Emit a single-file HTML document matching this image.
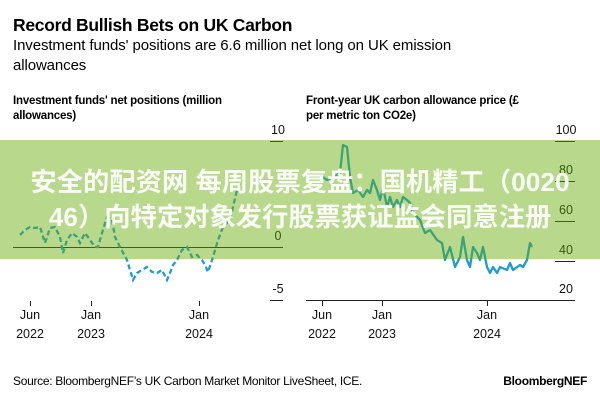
<!DOCTYPE html>
<html><head><meta charset="utf-8"><style>
body{margin:0;width:600px;height:400px;background:#fff;overflow:hidden;position:relative;font-family:"Liberation Sans",Arial,sans-serif;color:#000}
.t{position:absolute;white-space:nowrap}
</style></head><body>
<div class="t" style="left:13px;top:15px;font-size:17.5px;font-weight:bold;letter-spacing:-0.3px">Record Bullish Bets on UK Carbon</div>
<div class="t" style="left:13px;top:36px;font-size:15px;line-height:20px;letter-spacing:-0.1px">Investment funds' positions are 6.6 million net long on UK emission<br>allowances</div>
<div class="t" style="left:13px;top:94px;font-size:11.5px;font-weight:bold;line-height:15px;letter-spacing:-0.2px">Investment funds' net positions (million<br>allowances)</div>
<div class="t" style="left:306px;top:94px;font-size:11.5px;font-weight:bold;line-height:15px;letter-spacing:-0.2px">Front-year UK carbon allowance price (£<br>per metric ton CO2e)</div>
<svg width="600" height="400" style="position:absolute;left:0;top:0" font-family="Liberation Sans, Arial, sans-serif" font-size="12.5">
<g stroke="#222" stroke-width="1" fill="none">
<line x1="270" y1="141.5" x2="283" y2="141.5"/><line x1="270" y1="300.5" x2="283" y2="300.5"/><line x1="13" y1="247.5" x2="283" y2="247.5"/>
<line x1="30.5" y1="301" x2="30.5" y2="306"/><line x1="91.5" y1="301" x2="91.5" y2="306"/><line x1="199.5" y1="301" x2="199.5" y2="306"/>
<line x1="555" y1="141.5" x2="575" y2="141.5"/><line x1="555" y1="181.5" x2="575" y2="181.5"/><line x1="555" y1="221.5" x2="575" y2="221.5"/><line x1="555" y1="261.5" x2="575" y2="261.5"/>
<line x1="306" y1="300.5" x2="575" y2="300.5"/>
<line x1="322.5" y1="300" x2="322.5" y2="306"/><line x1="382.5" y1="300" x2="382.5" y2="306"/><line x1="487.5" y1="300" x2="487.5" y2="306"/>
</g>
<g fill="#111" text-anchor="middle">
<text x="278" y="134">10</text><text x="278" y="240">0</text><text x="278" y="293">-5</text>
<text x="566" y="134">100</text><text x="566" y="174">80</text><text x="566" y="214">60</text><text x="566" y="254">40</text><text x="566" y="293">20</text>
<text x="30" y="319">Jun</text><text x="30" y="338">2022</text><text x="91" y="319">Jan</text><text x="91" y="338">2023</text><text x="199" y="319">Jan</text><text x="199" y="338">2024</text>
<text x="322" y="319">Jun</text><text x="322" y="338">2022</text><text x="382" y="319">Jan</text><text x="382" y="338">2023</text><text x="487" y="319">Jan</text><text x="487" y="338">2024</text>
</g>
<polyline fill="none" stroke="#1f9ad9" stroke-width="2.3" stroke-dasharray="5 3" points="20,235 25,230 30,227 35,228 40,227 45,243 50,228 55,227 60,237 63,253 67,240 72,233 77,237 80,243 85,233 90,240 95,247 98,247 102,233 107,217 112,220 115,237 120,247 127,260 130,270 133,280 137,273 142,270 147,267 152,272 157,273 162,270 167,280 170,273 173,265 177,260 182,250 187,247 192,257 197,255 202,260 205,265 208,272 213,257 218,240 223,227 230,220 237,190 240,183 245,180"/>
<polyline fill="none" stroke="#1f9ad9" stroke-width="2.3" stroke-linejoin="round" points="320,175 327,180 333,177 340,173 343,145 347,147 350,177 353,193 358,190 363,197 367,190 370,193 373,180 377,190 380,200 383,187 387,207 390,197 393,207 397,200 400,207 403,197 407,200 410,203 413,213 420,220 425,233 430,230 437,240 442,243 445,260 450,247 455,267 460,257 463,237 467,260 470,267 473,247 477,253 480,260 483,247 487,267 490,273 493,267 497,273 500,267 507,270 510,263 513,270 520,265 523,267 527,260 530,243 532,247"/>
<rect x="0" y="140" width="600" height="119" fill="rgba(100,172,5,0.46)"/>
</svg>
<div class="t" style="left:0;width:600px;text-align:center;top:165px;font-size:26.3px;font-weight:bold;color:rgba(255,255,255,0.92);font-family:'Liberation Sans','Noto Sans CJK SC',sans-serif;line-height:35px">安全的配资网 每周股票复盘：国机精工（0020<br>46）向特定对象发行股票获证监会同意注册</div>
<div class="t" style="left:13px;top:374px;font-size:12px;letter-spacing:-0.3px">Source: BloombergNEF’s UK Carbon Market Monitor LiveSheet, ICE.</div>
<div class="t" style="right:13px;top:374px;font-size:12px;font-weight:bold;letter-spacing:-0.3px">BloombergNEF</div>
</body></html>
